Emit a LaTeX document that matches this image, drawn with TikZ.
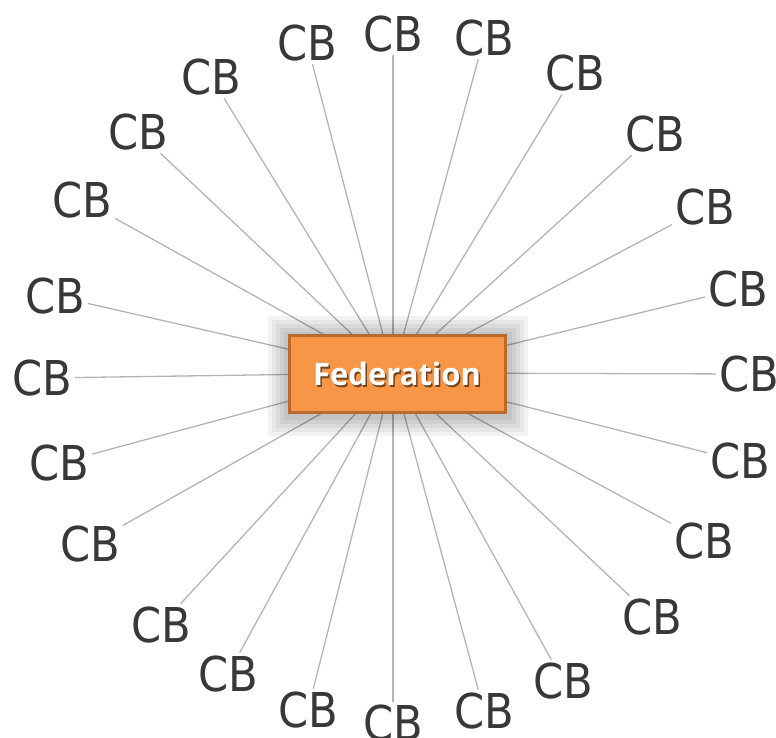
\documentclass[tikz,border=0pt]{standalone}
\usepackage{fontspec}
\newfontfamily\cbfont{DejaVu Sans Condensed}
\newfontfamily\fedfont{Open Sans}
\definecolor{cbtext}{HTML}{383838}
\definecolor{spoke}{HTML}{B4B4B4}
\definecolor{fedfill}{HTML}{F79646}
\definecolor{fedborder}{HTML}{B96A2C}
\tikzset{
  cb/.style={font=\cbfont\fontsize{48}{48}\selectfont, text=cbtext, inner sep=3pt, anchor=center},
  spokeline/.style={draw=spoke, line width=1.3pt},
  fedbox/.style={draw=fedborder, fill=fedfill, line width=3pt, minimum width=216pt, minimum height=77pt, inner sep=0pt},
  fedtext/.style={font=\fedfont\bfseries\fontsize{31}{31}\selectfont, inner sep=0pt},
}
\begin{document}
\begin{tikzpicture}[x=1pt,y=-1pt]
\useasboundingbox (0,0) rectangle (776,738);
\coordinate (c) at (393,373);
\foreach \n/\px/\py in {
  0/749/374, 15/738/289, 30/705/207, 45/655/134, 60/575/73, 75/484/38,
  90/393/34, 105/307/43, 120/211/77, 135/138/132, 150/82/200, 165/55/296,
  180/42/378, 195/59/463, 210/90/544, 225/161/625, 240/228/674, 255/308/710,
  270/393/723, 285/484/711, 300/563/681, 315/652/617, 330/704/541, 345/740/461}{
  \node[cb] (cb\n) at (\px,\py) {CB};
  \draw[spokeline] (c) -- (cb\n);
}
% soft shadow around the box
\foreach \d in {4,8,12,16,20}{
  \fill[black, opacity=0.05] (288-\d,336-\d) rectangle (508+\d,416+\d);
}
\node[fedbox] (fed) at (397,373.5) {};
\node[fedtext, text=black, opacity=0.55] (fedshadow) at (398.5,375.5) {Federation};
\node[fedtext, text=white] (fedlabel) at (fed.center) {Federation};
\end{tikzpicture}
\end{document}
